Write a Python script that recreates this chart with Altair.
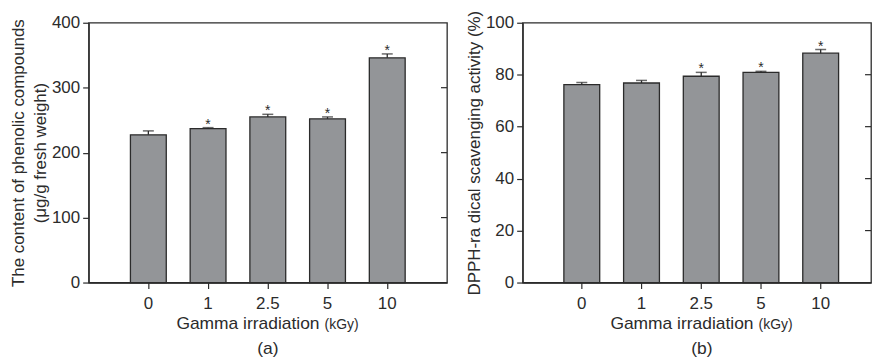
import altair as alt
import pandas as pd

doses = ["0", "1", "2.5", "5", "10"]

phen_mean = [227.5, 237, 255, 252, 346]
phen_err = [6, 1.5, 4, 3, 6]
phen_sig = [False, True, True, True, True]

dpph_mean = [76.2, 76.8, 79.4, 80.9, 88.3]
dpph_err = [0.8, 1.0, 1.5, 0.4, 1.4]
dpph_sig = [False, False, True, True, True]

phen_ticks = [0, 100, 200, 300, 400]
dpph_ticks = [0, 20, 40, 60, 80, 100]

FONT = "Liberation Sans"
INK = "#2b2b2b"
BAR = "#939598"


def panel(mean, err, sig, ticks, ymax, ytitle, width, pad_outer, align, letter, title_x):
    df = pd.DataFrame({
        "dose": doses,
        "mean": mean,
        "err": err,
        "top": [m + e for m, e in zip(mean, err)],
        "star": ["*" if s else "" for s in sig],
    })
    inner_ticks = pd.DataFrame({"v": ticks[1:-1]})
    xscale = alt.Scale(paddingInner=0.4, paddingOuter=pad_outer, align=align)
    yscale = alt.Scale(domain=[0, ymax], nice=False)
    yaxis = alt.Axis(title=ytitle, values=ticks, tickSize=6, labelPadding=3,
                     titlePadding=2, titleLineHeight=22)
    x = alt.X("dose:N", sort=doses, scale=xscale,
              axis=alt.Axis(title=None, labelAngle=0, tickSize=6, labelPadding=7))
    base = alt.Chart(df)
    bars = base.mark_bar(color=BAR, stroke=INK, strokeWidth=1.3).encode(
        x=x,
        y=alt.Y("mean:Q", scale=yscale, axis=yaxis),
    )
    stem = base.mark_rule(color=INK, strokeWidth=1.3).encode(
        x=x,
        y=alt.Y("mean:Q", scale=yscale, axis=yaxis),
        y2="top:Q",
    )
    cap = base.mark_tick(color=INK, thickness=1.5, size=11).encode(
        x=x,
        y=alt.Y("top:Q", scale=yscale, axis=yaxis),
    )
    stars = base.mark_text(font=FONT, fontSize=14, color=INK, baseline="alphabetic", dy=1).encode(
        x=x,
        y=alt.Y("top:Q", scale=yscale, axis=yaxis),
        text="star:N",
    )
    rticks = alt.Chart(inner_ticks).mark_rule(color=INK, strokeWidth=1.2).encode(
        y=alt.Y("v:Q", scale=yscale, axis=yaxis),
        x=alt.value(width - 6),
        x2=alt.value(width),
    )
    t1 = alt.Chart(pd.DataFrame({"t": ["Gamma irradiation"]})).mark_text(
        font=FONT, fontSize=17.5, color=INK, align="right", baseline="middle"
    ).encode(text="t:N", x=alt.value(title_x), y=alt.value(303))
    t2 = alt.Chart(pd.DataFrame({"t": ["(kGy)"]})).mark_text(
        font=FONT, fontSize=14, color=INK, align="left", baseline="middle"
    ).encode(text="t:N", x=alt.value(title_x + 5), y=alt.value(304))
    t3 = alt.Chart(pd.DataFrame({"t": [letter]})).mark_text(
        font=FONT, fontSize=17.5, color=INK, align="center", baseline="middle"
    ).encode(text="t:N", x=alt.value(180), y=alt.value(328))
    return alt.layer(bars, stem, cap, stars, rticks, t1, t2, t3).properties(width=width, height=261)


left = panel(phen_mean, phen_err, phen_sig, phen_ticks, 400,
             ["The content of phenolic compounds", "(\u03bcg/g fresh weight)"],
             360, 0.7, 0.5, "(a)", 232)
right = panel(dpph_mean, dpph_err, dpph_sig, dpph_ticks, 100,
              "DPPH-ra dical scavenging activity (%)",
              350, 0.6167, 0.56, "(b)", 232)

chart = alt.hconcat(left, right, spacing=15,
                    padding={"left": 0, "top": 0, "right": 0, "bottom": 0}).configure_view(
    stroke=INK, strokeWidth=1.3
).configure_axis(
    grid=False,
    domainColor=INK, domainWidth=1.3,
    tickColor=INK, tickWidth=1.2,
    labelColor=INK, titleColor=INK,
    labelFont=FONT, titleFont=FONT,
    labelFontSize=17, titleFontSize=17, titleFontWeight="normal",
)

chart.save("out.html", embed_options={"renderer": "svg", "actions": False})
